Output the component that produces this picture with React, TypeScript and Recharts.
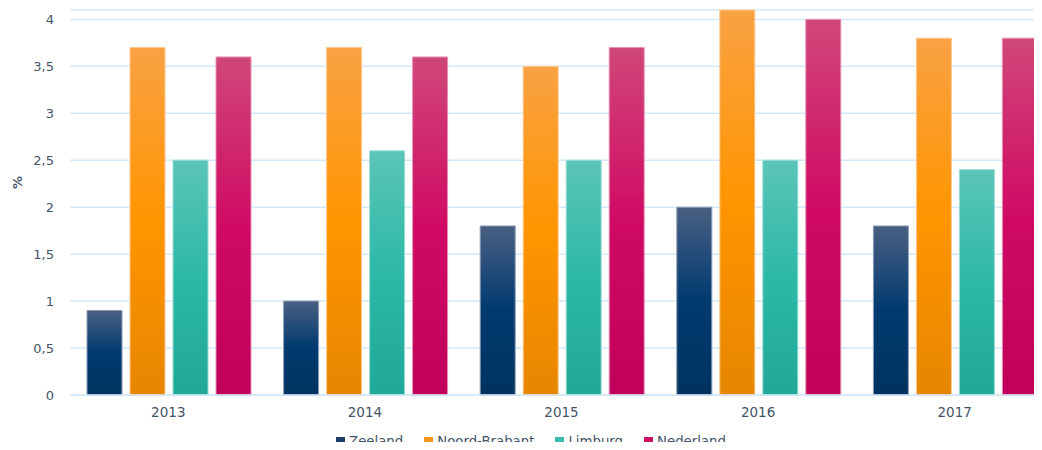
import React from 'react';
import { BarChart, Bar, XAxis, YAxis, CartesianGrid, Legend, Label } from 'recharts';

const years = ['2013', '2014', '2015', '2016', '2017'];
const zeeland = [0.9, 1.0, 1.8, 2.0, 1.8];
const noordBrabant = [3.7, 3.7, 3.5, 4.1, 3.8];
const limburg = [2.5, 2.6, 2.5, 2.5, 2.4];
const nederland = [3.6, 3.6, 3.7, 4.0, 3.8];
const yTicks = [0, 0.5, 1, 1.5, 2, 2.5, 3, 3.5, 4];

const data = years.map((year, i) => ({
  year,
  Zeeland: zeeland[i],
  'Noord-Brabant': noordBrabant[i],
  Limburg: limburg[i],
  Nederland: nederland[i],
}));

const series = [
  { key: 'Zeeland', id: 'gZee', top: '#4a5f82', mid: '#003a70', bottom: '#00335f', stroke: '#8b9cb8', legend: '#1c3d68' },
  { key: 'Noord-Brabant', id: 'gNB', top: '#f9a244', mid: '#ff9500', bottom: '#e68600', stroke: '#fcc890', legend: '#f7941d' },
  { key: 'Limburg', id: 'gLim', top: '#5bc5b8', mid: '#2db8a8', bottom: '#20a898', stroke: '#9adcd4', legend: '#3cbcae' },
  { key: 'Nederland', id: 'gNed', top: '#d04779', mid: '#d00a64', bottom: '#c0005a', stroke: '#e690b4', legend: '#cc1262' },
];

const textColor = '#44546A';
const gridColor = '#d3e8f8';
const fontFamily = '"DejaVu Sans", sans-serif';

const LegendContent = () => (
  <div
    style={{
      display: 'flex',
      justifyContent: 'center',
      alignItems: 'center',
      height: 25,
      paddingLeft: 9,
      fontFamily,
      fontSize: 13.3,
      color: textColor,
      whiteSpace: 'nowrap',
    }}
  >
    {series.map((s, i) => (
      <div key={s.key} style={{ display: 'flex', alignItems: 'center', marginLeft: i === 0 ? 0 : 21 }}>
        <span style={{ display: 'inline-block', width: 9, height: 9, background: s.legend, marginRight: 4 }} />
        <span>{s.key}</span>
      </div>
    ))}
  </div>
);

const PercentLabel = (props: any) => {
  const vb = props.viewBox || { x: 0, y: 0, width: 0, height: 0 };
  const cx = vb.x + 17;
  const cy = vb.y + vb.height / 2 - 20;
  return (
    <text
      x={cx}
      y={cy}
      transform={`rotate(-90, ${cx}, ${cy})`}
      textAnchor="middle"
      dominantBaseline="central"
      fill={textColor}
      fontSize={13}
      fontWeight="bold"
      fontFamily={fontFamily}
    >
      %
    </text>
  );
};

export default function App() {
  return (
    <div style={{ margin: -8, width: 1042, height: 450, overflow: 'hidden', background: '#fff', position: 'relative' }}>
      <BarChart
        width={1062}
        height={450}
        data={data}
        margin={{ top: 10, right: 9, left: 0, bottom: 0 }}
        barGap={8}
        barCategoryGap={17}
      >
        <defs>
          {series.map((s) => (
            <linearGradient key={s.id} id={s.id} x1="0" y1="0" x2="0" y2="1">
              <stop offset="0%" stopColor={s.top} />
              <stop offset="50%" stopColor={s.mid} />
              <stop offset="100%" stopColor={s.bottom} />
            </linearGradient>
          ))}
        </defs>
        <CartesianGrid vertical={false} stroke={gridColor} strokeWidth={1.5} />
        <XAxis
          dataKey="year"
          axisLine={{ stroke: gridColor, strokeWidth: 1.5 }}
          tickLine={false}
          tickMargin={6}
          height={30}
          tick={{ fill: textColor, fontSize: 13.5, fontFamily }}
        />
        <YAxis
          domain={[0, 4.1]}
          ticks={yTicks}
          interval={0}
          width={70}
          axisLine={false}
          tickLine={false}
          tickMargin={10}
          tickFormatter={(v: number) => String(v).replace('.', ',')}
          tick={{ fill: textColor, fontSize: 13, fontFamily }}
        >
          <Label content={<PercentLabel />} />
        </YAxis>
        <Legend verticalAlign="bottom" content={<LegendContent />} wrapperStyle={{ bottom: -4 }} />
        {series.map((s) => (
          <Bar
            key={s.key}
            dataKey={s.key}
            fill={`url(#${s.id})`}
            stroke={s.stroke}
            strokeWidth={1}
            isAnimationActive={false}
          />
        ))}
      </BarChart>
    </div>
  );
}
